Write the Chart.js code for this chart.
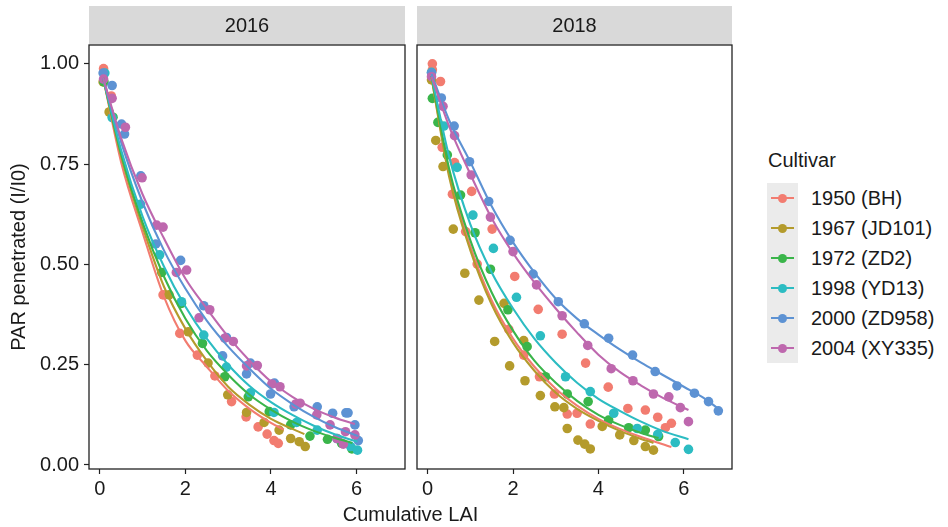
<!DOCTYPE html>
<html>
<head>
<meta charset="utf-8">
<script src="https://cdn.jsdelivr.net/npm/chart.js@4.4.1/dist/chart.umd.min.js"></script>
<style>
  body { margin: 0; background: #fff; font-family: "Liberation Sans", Arial, sans-serif; }
  #wrap { position: relative; width: 948px; height: 527px; overflow: hidden; }
  #left { position: absolute; left: 0; top: 0; }
  #right { position: absolute; left: 410px; top: 0; }
  .txt { position: absolute; font-size: 20px; line-height: 24px; color: #1a1a1a; white-space: nowrap; }
  #xtitle { left: 0; width: 821px; text-align: center; top: 502px; }
  #legend-title { left: 768px; top: 148px; }
  #keys { position: absolute; left: 767px; top: 183px; width: 31px; height: 180px; background: #ebebeb; }
  .kline { position: absolute; left: 4px; width: 23px; height: 2px; }
  .kdot { position: absolute; left: 11px; width: 9px; height: 9px; border-radius: 50%; }
</style>
</head>
<body>
<div id="wrap">
  <canvas id="left" width="410" height="527"></canvas>
  <canvas id="right" width="330" height="527"></canvas>
  <div class="txt" id="xtitle">Cumulative LAI</div>
  <div class="txt" id="legend-title">Cultivar</div>
  <div id="keys"></div>
</div>
<script>
const cultivars = ["1950 (BH)", "1967 (JD101)", "1972 (ZD2)", "1998 (YD13)", "2000 (ZD958)", "2004 (XY335)"];
const colors = ["#F27C70", "#B49B2C", "#3AB54A", "#2CBCC2", "#5D92D3", "#BE68AE"];
const years = ["2016", "2018"];
const xTicks = [0, 2, 4, 6];
const yTicks = [0, 0.25, 0.5, 0.75, 1];

// 2016 measurements, [LAI, I/I0]
const bh16 = [[0.09,0.988],[0.27,0.92],[1.48,0.424],[1.87,0.328],[2.28,0.274],[2.69,0.222],[3.08,0.158],[3.42,0.120],[3.70,0.095],[3.91,0.077],[4.07,0.061],[4.17,0.054]];
const jd16 = [[0.08,0.955],[0.22,0.88],[1.62,0.424],[2.07,0.332],[2.53,0.254],[2.99,0.175],[3.43,0.131],[3.84,0.106],[4.19,0.087],[4.46,0.066],[4.66,0.058],[4.80,0.046]];
const zd2_16 = [[0.1,0.955],[0.31,0.867],[1.45,0.48],[1.91,0.403],[2.40,0.303],[2.92,0.220],[3.47,0.170],[3.96,0.133],[4.46,0.100],[4.91,0.072],[5.32,0.064],[5.65,0.054],[5.89,0.040]];
const yd16 = [[0.12,0.977],[0.29,0.866],[0.95,0.65],[1.40,0.524],[1.91,0.407],[2.43,0.324],[2.96,0.244],[3.52,0.180],[4.07,0.131],[4.60,0.106],[5.08,0.087],[5.54,0.066],[5.86,0.046],[6.02,0.037]];
const zd958_16 = [[0.08,0.977],[0.29,0.946],[0.51,0.85],[0.58,0.825],[0.96,0.721],[1.31,0.551],[1.89,0.510],[2.43,0.397],[2.87,0.272],[2.96,0.318],[3.43,0.227],[3.52,0.254],[3.99,0.177],[4.08,0.204],[4.54,0.145],[5.08,0.145],[5.44,0.129],[5.75,0.130],[5.80,0.130],[5.96,0.100],[6.04,0.061]];
const xy16 = [[0.09,0.962],[0.29,0.914],[0.60,0.842],[0.99,0.716],[1.33,0.598],[1.48,0.593],[1.79,0.480],[2.03,0.486],[2.32,0.367],[2.57,0.387],[2.92,0.316],[3.12,0.308],[3.43,0.247],[3.68,0.248],[4.02,0.202],[4.21,0.195],[4.58,0.152],[4.68,0.154],[5.07,0.125],[5.38,0.100],[5.54,0.066],[5.69,0.052],[5.74,0.083],[5.96,0.075]];

// 2018 measurements
const bh18 = [[0.11,1.0],[0.11,0.985],[0.30,0.956],[0.34,0.792],[0.58,0.675],[0.63,0.754],[0.89,0.582],[1.03,0.682],[1.16,0.501],[1.51,0.588],[1.90,0.338],[2.04,0.470],[2.25,0.274],[2.59,0.388],[2.62,0.220],[2.97,0.177],[3.15,0.326],[3.27,0.127],[3.50,0.129],[3.70,0.254],[3.81,0.102],[4.23,0.194],[4.69,0.141],[5.10,0.137],[5.39,0.119],[5.57,0.093],[5.71,0.104]];
const jd18 = [[0.09,0.96],[0.19,0.809],[0.36,0.744],[0.60,0.588],[0.87,0.478],[1.20,0.411],[1.57,0.308],[1.79,0.403],[1.92,0.247],[2.25,0.31],[2.28,0.210],[2.64,0.173],[2.98,0.145],[3.19,0.143],[3.27,0.091],[3.52,0.062],[3.68,0.052],[3.81,0.040],[4.09,0.096],[4.50,0.075],[4.83,0.061],[5.10,0.046],[5.29,0.037]];
const zd2_18 = [[0.11,0.914],[0.24,0.854],[0.46,0.773],[0.77,0.673],[1.11,0.579],[1.47,0.488],[1.88,0.387],[2.33,0.295],[2.76,0.220],[3.27,0.177],[3.76,0.158],[4.24,0.112],[4.71,0.093],[5.10,0.087],[5.41,0.071]];
const yd18 = [[0.09,0.979],[0.38,0.845],[0.69,0.742],[1.06,0.623],[1.54,0.540],[2.08,0.418],[2.64,0.322],[3.23,0.220],[3.81,0.183],[4.36,0.129],[4.91,0.091],[5.39,0.076],[5.80,0.056],[6.11,0.039]];
const zd958_18 = [[0.09,0.977],[0.32,0.915],[0.62,0.845],[0.98,0.756],[1.43,0.657],[1.93,0.560],[2.47,0.476],[3.06,0.407],[3.67,0.352],[4.24,0.316],[4.80,0.274],[5.33,0.233],[5.84,0.197],[6.25,0.179],[6.58,0.158],[6.81,0.135]];
const xy18 = [[0.09,0.968],[0.36,0.894],[0.63,0.821],[1.02,0.723],[1.47,0.618],[2.00,0.532],[2.55,0.449],[3.15,0.372],[3.75,0.298],[4.30,0.240],[4.81,0.210],[5.29,0.177],[5.65,0.170],[5.92,0.143],[6.11,0.108]];

// fitted decay curves
const bh16Fit = [[0.08,0.965],[0.5,0.755],[1,0.58],[1.5,0.42],[2,0.31],[2.5,0.245],[3,0.185],[3.5,0.14],[4,0.105],[4.3,0.088]];
const jd16Fit = [[0.08,0.965],[0.5,0.77],[1,0.595],[1.5,0.445],[2,0.34],[2.5,0.26],[3,0.195],[3.5,0.15],[4,0.115],[4.5,0.09],[4.78,0.077]];
const zd2_16Fit = [[0.08,0.965],[0.5,0.775],[1,0.605],[1.5,0.47],[2,0.365],[2.5,0.285],[3,0.225],[3.5,0.175],[4,0.138],[4.5,0.108],[5,0.085],[5.5,0.067],[5.9,0.055]];
const yd16Fit = [[0.08,0.965],[0.5,0.785],[1,0.62],[1.5,0.495],[2,0.395],[2.5,0.315],[3,0.25],[3.5,0.197],[4,0.157],[4.5,0.125],[5,0.098],[5.5,0.076],[6.02,0.058]];
const zd958_16Fit = [[0.08,0.965],[0.5,0.805],[1,0.655],[1.5,0.535],[2,0.44],[2.5,0.36],[3,0.295],[3.5,0.24],[4,0.19],[4.5,0.152],[5,0.12],[5.5,0.094],[6.04,0.072]];
const xy16Fit = [[0.08,0.965],[0.5,0.815],[1,0.675],[1.5,0.565],[2,0.465],[2.5,0.39],[3,0.32],[3.5,0.26],[4,0.208],[4.5,0.17],[5,0.14],[5.5,0.118],[5.96,0.102]];

const bh18Fit = [[0.09,0.965],[0.5,0.73],[1,0.545],[1.5,0.41],[2,0.315],[2.5,0.245],[3,0.19],[3.5,0.148],[4,0.115],[4.5,0.09],[5,0.07],[5.71,0.045]];
const jd18Fit = [[0.09,0.965],[0.5,0.72],[1,0.535],[1.5,0.4],[2,0.305],[2.5,0.235],[3,0.18],[3.5,0.14],[4,0.11],[4.5,0.085],[5,0.065],[5.29,0.055]];
const zd2_18Fit = [[0.09,0.97],[0.5,0.74],[1,0.56],[1.5,0.43],[2,0.335],[2.5,0.26],[3,0.205],[3.5,0.16],[4,0.125],[4.5,0.1],[5,0.08],[5.41,0.067]];
const yd18Fit = [[0.09,0.97],[0.5,0.77],[1,0.6],[1.5,0.48],[2,0.39],[2.5,0.315],[3,0.255],[3.5,0.205],[4,0.165],[4.5,0.135],[5,0.108],[5.5,0.085],[6.11,0.064]];
const zd958_18Fit = [[0.09,0.975],[0.5,0.86],[1,0.755],[1.5,0.645],[2,0.555],[2.5,0.48],[3,0.415],[3.5,0.365],[4,0.325],[4.5,0.288],[5,0.255],[5.5,0.225],[6,0.195],[6.5,0.165],[6.81,0.14]];
const xy18Fit = [[0.09,0.968],[0.5,0.845],[1,0.725],[1.5,0.615],[2,0.528],[2.5,0.455],[3,0.39],[3.5,0.33],[4,0.275],[4.5,0.232],[5,0.198],[5.5,0.168],[6.11,0.137]];

const points = {
  "2016": [bh16, jd16, zd2_16, yd16, zd958_16, xy16],
  "2018": [bh18, jd18, zd2_18, yd18, zd958_18, xy18]
};
const fits = {
  "2016": [bh16Fit, jd16Fit, zd2_16Fit, yd16Fit, zd958_16Fit, xy16Fit],
  "2018": [bh18Fit, jd18Fit, zd2_18Fit, yd18Fit, zd958_18Fit, xy18Fit]
};

const font = { family: "'Liberation Sans', Arial, sans-serif", size: 20 };
const ink = "#1a1a1a";

const toXY = (arr) => arr.map(p => ({ x: p[0], y: p[1] }));

// facet strip on top + dark frame around the panel
const panelDeco = {
  id: "panelDeco",
  afterDraw(chart, args, opts) {
    const { ctx, chartArea: a } = chart;
    ctx.save();
    ctx.fillStyle = "#d9d9d9";
    ctx.fillRect(a.left, 6, a.right - a.left, a.top - 6.5);
    ctx.fillStyle = ink;
    ctx.font = "20px 'Liberation Sans', Arial, sans-serif";
    ctx.textAlign = "center";
    ctx.textBaseline = "middle";
    ctx.fillText(opts.label, (a.left + a.right) / 2, 26);
    ctx.strokeStyle = "#222";
    ctx.lineWidth = 1.3;
    ctx.strokeRect(a.left, a.top, a.right - a.left, a.bottom - a.top);
    ctx.restore();
  }
};

function buildDatasets(year) {
  const ds = [];
  // later cultivars end up on top, fits above the points
  for (let i = cultivars.length - 1; i >= 0; i--) {
    ds.push({
      label: cultivars[i] + " fit",
      data: toXY(fits[year][i]),
      showLine: true,
      borderColor: colors[i],
      borderWidth: 2.1,
      pointRadius: 0,
      cubicInterpolationMode: "monotone",
      order: 0
    });
  }
  for (let i = cultivars.length - 1; i >= 0; i--) {
    ds.push({
      label: cultivars[i],
      data: toXY(points[year][i]),
      showLine: false,
      backgroundColor: colors[i],
      borderWidth: 0,
      pointRadius: 4.8,
      order: 1
    });
  }
  return ds;
}

function makePanel(canvasId, year, showY) {
  return new Chart(document.getElementById(canvasId), {
    type: "scatter",
    data: { datasets: buildDatasets(year) },
    plugins: [panelDeco],
    options: {
      responsive: false,
      animation: false,
      layout: { padding: showY ? { top: 45, right: 5, left: 0, bottom: 0 } : { top: 45, right: 8, left: 7, bottom: 0 } },
      plugins: {
        legend: { display: false },
        tooltip: { enabled: false },
        panelDeco: { label: year }
      },
      scales: {
        x: {
          type: "linear",
          min: -0.25,
          max: 7.13,
          afterBuildTicks: (s) => { s.ticks = xTicks.map(v => ({ value: v })); },
          afterFit: (s) => { s.height = 58; },
          grid: { drawOnChartArea: false, tickLength: 5, color: "#222", tickWidth: 1.2 },
          border: { display: false },
          ticks: { font: font, color: ink, padding: 3, maxRotation: 0 }
        },
        y: {
          display: showY,
          min: -0.01,
          max: 1.047,
          afterBuildTicks: (s) => { s.ticks = yTicks.map(v => ({ value: v })); },
          afterFit: (s) => { s.width = showY ? 89 : 0; },
          grid: { drawOnChartArea: false, tickLength: 5, color: "#222", tickWidth: 1.2 },
          border: { display: false },
          ticks: { font: font, color: ink, padding: 5, callback: (v) => v.toFixed(2) },
          title: { display: true, text: "PAR penetrated (I/I0)", font: font, color: ink, padding: { top: 7, bottom: 0 } }
        }
      }
    }
  });
}

makePanel("left", years[0], true);
makePanel("right", years[1], false);

// legend: keys on a grey strip, labels beside them
const keys = document.getElementById("keys");
const wrap = document.getElementById("wrap");
cultivars.forEach((name, i) => {
  const cy = 15 + i * 30;
  const line = document.createElement("div");
  line.className = "kline";
  line.style.top = (cy - 1) + "px";
  line.style.background = colors[i];
  keys.appendChild(line);
  const dot = document.createElement("div");
  dot.className = "kdot";
  dot.style.top = (cy - 4.5) + "px";
  dot.style.background = colors[i];
  keys.appendChild(dot);
  const lab = document.createElement("div");
  lab.className = "txt";
  lab.style.left = "811px";
  lab.style.top = (183 + cy - 12) + "px";
  lab.textContent = name;
  wrap.appendChild(lab);
});
</script>
</body>
</html>
